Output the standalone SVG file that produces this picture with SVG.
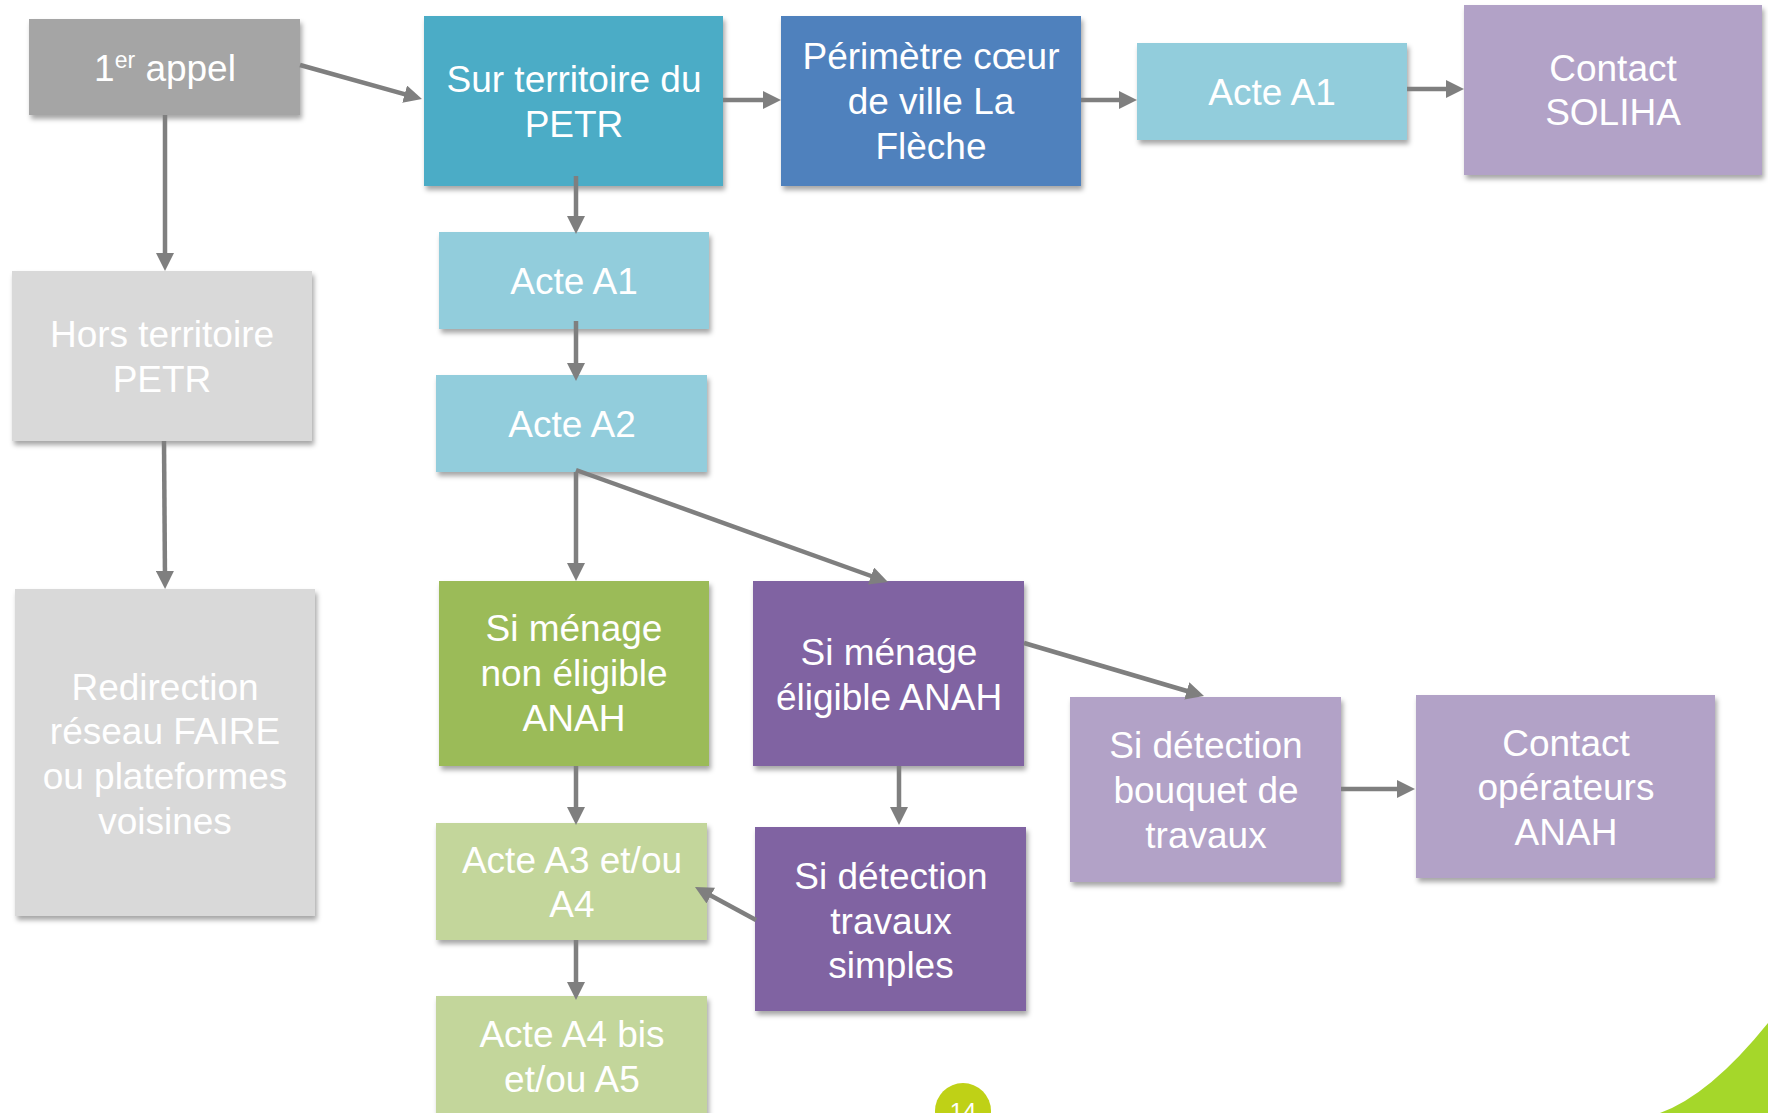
<svg xmlns="http://www.w3.org/2000/svg" width="1768" height="1113" viewBox="0 0 1768 1113">
<defs>
<filter id="sh" x="-10%" y="-10%" width="125%" height="130%">
<feDropShadow dx="2" dy="4" stdDeviation="2.5" flood-color="#000" flood-opacity="0.35"/>
</filter>
<marker id="ar" viewBox="0 0 16 16" refX="8" refY="8" markerWidth="18" markerHeight="18" markerUnits="userSpaceOnUse" orient="auto">
<path d="M0,0 L16,8 L0,16 z" fill="#7F7F7F"/>
</marker>
</defs>
<style>
.t{font-family:"Liberation Sans",Arial,sans-serif;font-size:37px;fill:#FFFFFF;text-anchor:middle}
.c{stroke:#7F7F7F;stroke-width:4.5;fill:none;marker-end:url(#ar)}
.b{filter:url(#sh)}
</style>
<rect width="1768" height="1113" fill="#FFFFFF"/>
<path d="M1660,1113 Q1710,1095 1768,1023 L1768,1113 Z" fill="#A5D72A"/>
<g id="page">
<circle cx="963" cy="1111" r="28" fill="#BFD116"/>
<text x="963" y="1120" style="font-family:'Liberation Sans',Arial,sans-serif;font-size:24px;fill:#FFFFFF;text-anchor:middle">14</text>
</g>

<g id="n1"><rect class="b" x="29" y="19" width="271" height="96" fill="#A5A5A5"/>
<text class="t" x="165" y="81">1<tspan font-size="23" dy="-13">er</tspan><tspan dy="13"> appel</tspan></text></g>

<g id="n2"><rect class="b" x="424" y="16" width="299" height="170" fill="#4BACC6"/>
<text class="t" x="574" y="92">Sur territoire du</text><text class="t" x="574" y="137">PETR</text></g>

<g id="n3"><rect class="b" x="781" y="16" width="300" height="170" fill="#4F81BD"/>
<text class="t" x="931" y="69">Périmètre cœur</text><text class="t" x="931" y="114">de ville La</text><text class="t" x="931" y="159">Flèche</text></g>

<g id="n4"><rect class="b" x="1137" y="43" width="270" height="97" fill="#92CDDC"/>
<text class="t" x="1272" y="105">Acte A1</text></g>

<g id="n5"><rect class="b" x="1464" y="5" width="298" height="170" fill="#B2A2C7"/>
<text class="t" x="1613" y="81">Contact</text><text class="t" x="1613" y="125">SOLIHA</text></g>

<g id="n6"><rect class="b" x="12" y="271" width="300" height="170" fill="#D9D9D9"/>
<text class="t" x="162" y="347">Hors territoire</text><text class="t" x="162" y="392">PETR</text></g>

<g id="n7"><rect class="b" x="15" y="589" width="300" height="327" fill="#D9D9D9"/>
<text class="t" x="165" y="700">Redirection</text><text class="t" x="165" y="744">réseau FAIRE</text><text class="t" x="165" y="789">ou plateformes</text><text class="t" x="165" y="834">voisines</text></g>

<g id="n8"><rect class="b" x="439" y="232" width="270" height="97" fill="#92CDDC"/>
<text class="t" x="574" y="294">Acte A1</text></g>

<g id="n9"><rect class="b" x="436" y="375" width="271" height="97" fill="#92CDDC"/>
<text class="t" x="572" y="437">Acte A2</text></g>

<g id="n10"><rect class="b" x="439" y="581" width="270" height="185" fill="#9BBB59"/>
<text class="t" x="574" y="641">Si ménage</text><text class="t" x="574" y="686">non éligible</text><text class="t" x="574" y="731">ANAH</text></g>

<g id="n11"><rect class="b" x="753" y="581" width="271" height="185" fill="#8064A2"/>
<text class="t" x="889" y="665">Si ménage</text><text class="t" x="889" y="710">éligible ANAH</text></g>

<g id="n12"><rect class="b" x="1070" y="697" width="271" height="185" fill="#B2A2C7"/>
<text class="t" x="1206" y="758">Si détection</text><text class="t" x="1206" y="803">bouquet de</text><text class="t" x="1206" y="848">travaux</text></g>

<g id="n13"><rect class="b" x="1416" y="695" width="299" height="183" fill="#B2A2C7"/>
<text class="t" x="1566" y="756">Contact</text><text class="t" x="1566" y="800">opérateurs</text><text class="t" x="1566" y="845">ANAH</text></g>

<g id="n14"><rect class="b" x="436" y="823" width="271" height="117" fill="#C3D69B"/>
<text class="t" x="572" y="873">Acte A3 et/ou</text><text class="t" x="572" y="917">A4</text></g>

<g id="n15"><rect class="b" x="755" y="827" width="271" height="184" fill="#8064A2"/>
<text class="t" x="891" y="889">Si détection</text><text class="t" x="891" y="934">travaux</text><text class="t" x="891" y="978">simples</text></g>

<g id="n16"><rect class="b" x="436" y="996" width="271" height="130" fill="#C3D69B"/>
<text class="t" x="572" y="1047">Acte A4 bis</text><text class="t" x="572" y="1092">et/ou A5</text></g>

<g id="connectors">
<path class="c" d="M300,65 L413.3,96.6"/>
<path class="c" d="M165,115 L165,262"/>
<path class="c" d="M164,441 L165,580"/>
<path class="c" d="M723,100 L772,100"/>
<path class="c" d="M1081,100 L1128,100"/>
<path class="c" d="M1407,89 L1455,89"/>
<path class="c" d="M576,176 L576,225"/>
<path class="c" d="M576,321 L576,372"/>
<path class="c" d="M576,472 L576,572"/>
<path class="c" d="M576,470 L879.5,579"/>
<path class="c" d="M1024,643 L1195.4,693.5"/>
<path class="c" d="M899,766 L899,816"/>
<path class="c" d="M756,920 L702.9,891.3"/>
<path class="c" d="M576,766 L576,816"/>
<path class="c" d="M576,940 L576,991"/>
<path class="c" d="M1341,789 L1406,789"/>
</g>
</svg>
